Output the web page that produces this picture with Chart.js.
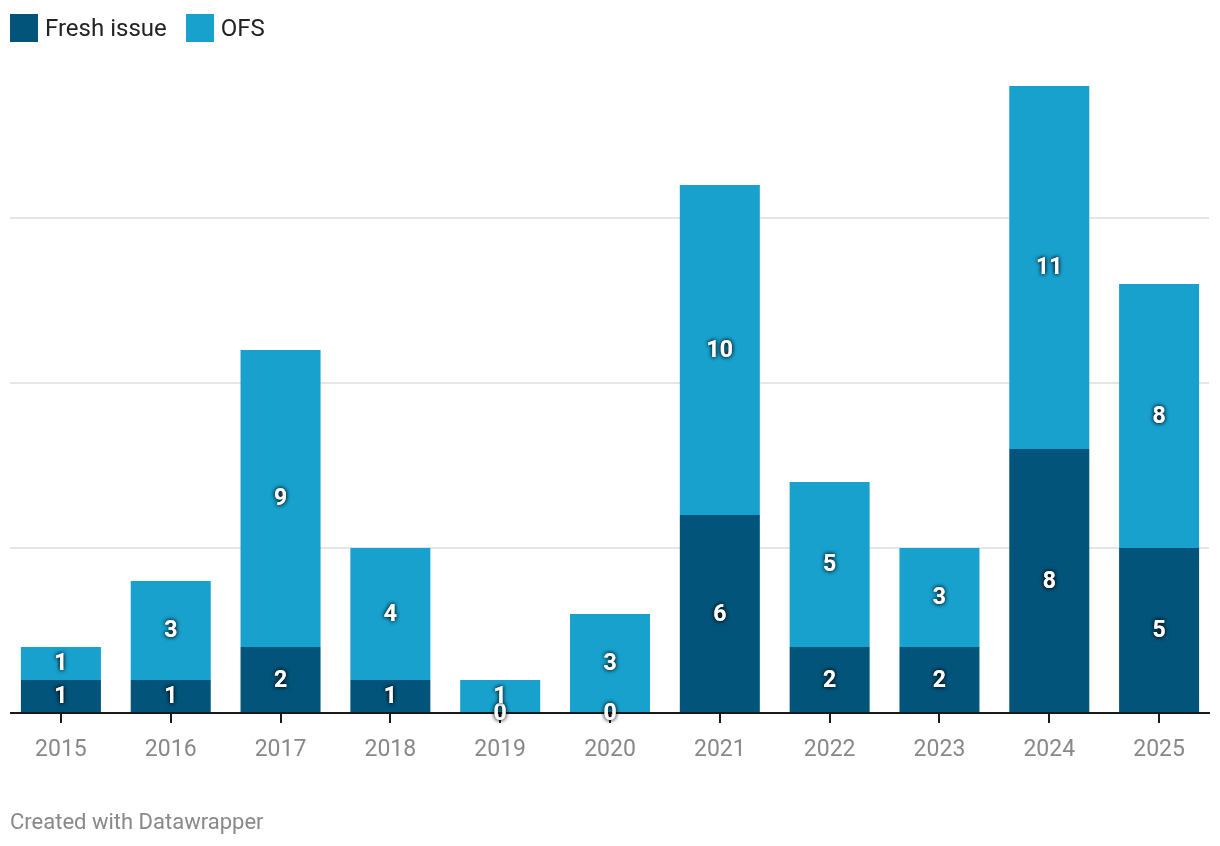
<!DOCTYPE html>
<html>
<head>
<meta charset="utf-8">
<script src="https://cdn.jsdelivr.net/npm/chart.js@4"></script>
<style>
  html, body { margin: 0; padding: 0; background: #fff; }
  #wrap { position: relative; width: 1220px; height: 846px; font-family: Roboto, sans-serif; }
  canvas { position: absolute; left: 0; top: 0; }
  .legend { position: absolute; left: 10px; top: 14px; display: flex; align-items: center; font-size: 24px; color: #222; }
  .legend .item { display: flex; align-items: center; margin-right: 19px; }
  .legend .sw { width: 28px; height: 28px; margin-right: 7px; }
  .footer { position: absolute; left: 10px; top: 808px; font-size: 22px; color: #888; line-height: 28px; }
</style>
</head>
<body>
<div id="wrap">
  <canvas id="c" width="1220" height="846"></canvas>
  <div class="legend">
    <div class="item"><div class="sw" style="background:#03547a"></div><span>Fresh issue</span></div>
    <div class="item"><div class="sw" style="background:#18a1cd"></div><span>OFS</span></div>
  </div>
  <div class="footer">Created with Datawrapper</div>
</div>
<script>
const years = ['2015','2016','2017','2018','2019','2020','2021','2022','2023','2024','2025'];
const freshIssue = [1, 1, 2, 1, 0, 0, 6, 2, 2, 8, 5];
const ofs = [1, 3, 9, 4, 1, 3, 10, 5, 3, 11, 8];
const gridValues = [5, 10, 15];

const FRESH_COLOR = '#03547a';
const OFS_COLOR = '#18a1cd';

const decorPlugin = {
  id: 'decor',
  beforeDatasetsDraw(chart) {
    const ctx = chart.ctx, y = chart.scales.y;
    ctx.save();
    ctx.strokeStyle = '#e5e5e5';
    ctx.lineWidth = 2;
    gridValues.forEach(v => {
      const py = Math.round(y.getPixelForValue(v));
      ctx.beginPath();
      ctx.moveTo(10, py);
      ctx.lineTo(1209, py);
      ctx.stroke();
    });
    ctx.restore();
  },
  afterDatasetsDraw(chart) {
    const ctx = chart.ctx, y = chart.scales.y;
    ctx.save();
    const by = y.getPixelForValue(0);
    ctx.strokeStyle = '#1a1a1a';
    ctx.lineWidth = 2;
    ctx.beginPath();
    ctx.moveTo(10, by);
    ctx.lineTo(1210, by);
    ctx.stroke();
    ctx.font = 'bold 23px Roboto, sans-serif';
    ctx.textAlign = 'center';
    ctx.textBaseline = 'middle';
    chart.data.datasets.forEach((ds, di) => {
      const meta = chart.getDatasetMeta(di);
      meta.data.forEach((el, i) => {
        const v = ds.data[i];
        const cy = (el.y + el.base) / 2;
        ctx.shadowColor = 'rgba(0,0,0,0.75)';
        ctx.shadowBlur = 4;
        ctx.fillStyle = '#fff';
        ctx.fillText(String(v), el.x, cy + 1);
        ctx.fillText(String(v), el.x, cy + 1);
      });
    });
    ctx.restore();
  }
};

new Chart(document.getElementById('c'), {
  type: 'bar',
  data: {
    labels: years,
    datasets: [
      { label: 'Fresh issue', data: freshIssue, backgroundColor: FRESH_COLOR, stack: 's' },
      { label: 'OFS', data: ofs, backgroundColor: OFS_COLOR, stack: 's' }
    ]
  },
  options: {
    responsive: false,
    animation: false,
    devicePixelRatio: 1,
    layout: { padding: { left: 6, right: 6, top: 53, bottom: 0 } },
    plugins: { legend: { display: false }, tooltip: { enabled: false } },
    datasets: { bar: { categoryPercentage: 1, barPercentage: 0.7286 } },
    scales: {
      x: {
        stacked: true,
        afterFit(scale) { scale.height = 133; },
        border: { display: false },
        grid: { offset: false, drawOnChartArea: false, drawTicks: true, tickLength: 10, tickWidth: 2, tickColor: '#1a1a1a', color: '#1a1a1a', lineWidth: 2 },
        ticks: { color: '#888', font: { family: 'Roboto', size: 23 }, padding: 13 }
      },
      y: {
        stacked: true,
        display: false,
        min: 0,
        max: 20
      }
    }
  },
  plugins: [decorPlugin]
});
</script>
</body>
</html>
